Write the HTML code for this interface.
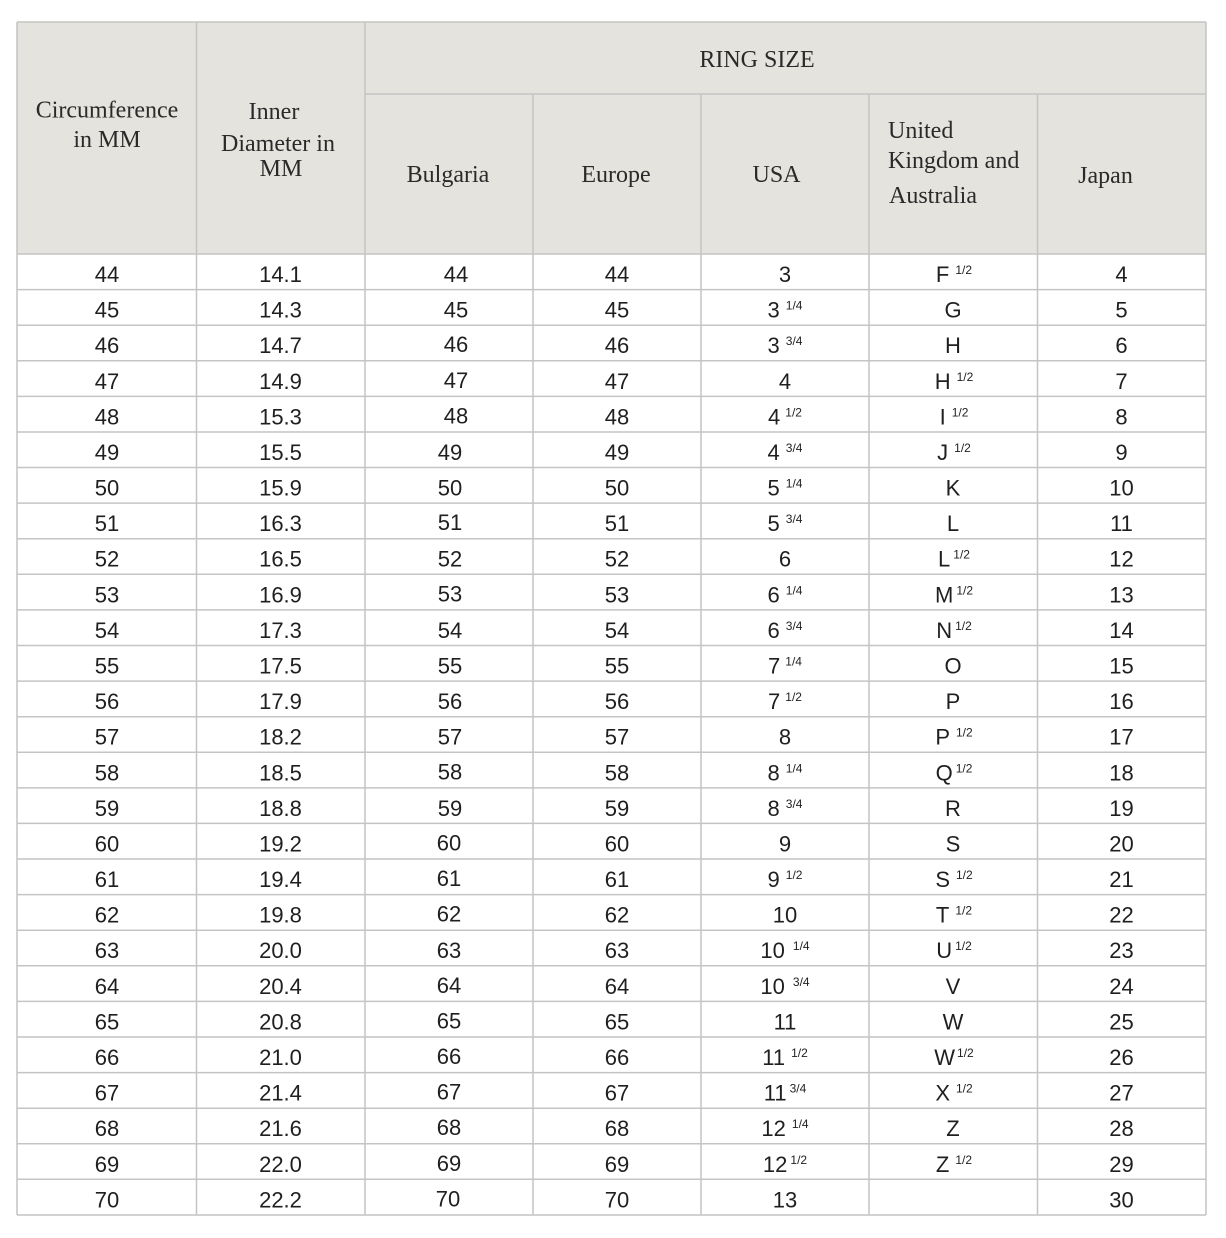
<!DOCTYPE html>
<html>
<head>
<meta charset="utf-8">
<style>
html,body{margin:0;padding:0;background:#fff;}
svg{display:block;}
.h{font-family:"Liberation Serif",serif;font-size:24px;fill:#2a2a2a;}
.b{font-family:"Liberation Sans",sans-serif;font-size:22px;fill:#1f1f1f;text-anchor:middle;}
.s{font-size:12px;}
</style>
</head>
<body>
<svg width="1226" height="1238" viewBox="0 0 1226 1238" xmlns="http://www.w3.org/2000/svg">
<rect x="0" y="0" width="1226" height="1238" fill="#fff"/>
<rect x="17" y="22" width="1189" height="232" fill="#e4e3dd"/>
<g stroke="#c4c4c4" stroke-width="1.5" fill="none">
<line x1="17" y1="22" x2="1206" y2="22"/>
<line x1="365" y1="94" x2="1206" y2="94"/>
<line x1="17" y1="22" x2="17" y2="1215"/>
<line x1="196.5" y1="22" x2="196.5" y2="1215"/>
<line x1="365" y1="22" x2="365" y2="1215"/>
<line x1="533" y1="94" x2="533" y2="1215"/>
<line x1="701" y1="94" x2="701" y2="1215"/>
<line x1="869" y1="94" x2="869" y2="1215"/>
<line x1="1037.5" y1="94" x2="1037.5" y2="1215"/>
<line x1="1206" y1="22" x2="1206" y2="1215"/>
<line x1="17" y1="254" x2="1206" y2="254"/>
<line x1="17" y1="289.6" x2="1206" y2="289.6"/>
<line x1="17" y1="325.2" x2="1206" y2="325.2"/>
<line x1="17" y1="360.8" x2="1206" y2="360.8"/>
<line x1="17" y1="396.4" x2="1206" y2="396.4"/>
<line x1="17" y1="432.0" x2="1206" y2="432.0"/>
<line x1="17" y1="467.5" x2="1206" y2="467.5"/>
<line x1="17" y1="503.1" x2="1206" y2="503.1"/>
<line x1="17" y1="538.7" x2="1206" y2="538.7"/>
<line x1="17" y1="574.3" x2="1206" y2="574.3"/>
<line x1="17" y1="609.9" x2="1206" y2="609.9"/>
<line x1="17" y1="645.5" x2="1206" y2="645.5"/>
<line x1="17" y1="681.1" x2="1206" y2="681.1"/>
<line x1="17" y1="716.7" x2="1206" y2="716.7"/>
<line x1="17" y1="752.3" x2="1206" y2="752.3"/>
<line x1="17" y1="787.9" x2="1206" y2="787.9"/>
<line x1="17" y1="823.4" x2="1206" y2="823.4"/>
<line x1="17" y1="859.0" x2="1206" y2="859.0"/>
<line x1="17" y1="894.6" x2="1206" y2="894.6"/>
<line x1="17" y1="930.2" x2="1206" y2="930.2"/>
<line x1="17" y1="965.8" x2="1206" y2="965.8"/>
<line x1="17" y1="1001.4" x2="1206" y2="1001.4"/>
<line x1="17" y1="1037.0" x2="1206" y2="1037.0"/>
<line x1="17" y1="1072.6" x2="1206" y2="1072.6"/>
<line x1="17" y1="1108.2" x2="1206" y2="1108.2"/>
<line x1="17" y1="1143.8" x2="1206" y2="1143.8"/>
<line x1="17" y1="1179.3" x2="1206" y2="1179.3"/>
<line x1="17" y1="1215" x2="1206" y2="1215"/>
</g>

<!-- headers -->
<g class="h">
<text x="107" y="117.5" text-anchor="middle">Circumference</text>
<text x="107" y="147" text-anchor="middle">in MM</text>
<text x="274" y="119" text-anchor="middle">Inner</text>
<text x="278" y="151" text-anchor="middle">Diameter in</text>
<text x="281" y="176" text-anchor="middle">MM</text>
<text x="757" y="67" text-anchor="middle">RING SIZE</text>
<text x="448" y="182" text-anchor="middle">Bulgaria</text>
<text x="616" y="182" text-anchor="middle">Europe</text>
<text x="776.5" y="182" text-anchor="middle">USA</text>
<text x="888" y="138">United</text>
<text x="888" y="168">Kingdom and</text>
<text x="889" y="203">Australia</text>
<text x="1105.5" y="183" text-anchor="middle">Japan</text>
</g>

<g class="b">
<!-- col1 -->
<text x="107" y="282.0">44</text>
<text x="107" y="317.6">45</text>
<text x="107" y="353.2">46</text>
<text x="107" y="388.8">47</text>
<text x="107" y="424.4">48</text>
<text x="107" y="459.9">49</text>
<text x="107" y="495.5">50</text>
<text x="107" y="531.1">51</text>
<text x="107" y="566.7">52</text>
<text x="107" y="602.3">53</text>
<text x="107" y="637.9">54</text>
<text x="107" y="673.5">55</text>
<text x="107" y="709.1">56</text>
<text x="107" y="744.7">57</text>
<text x="107" y="780.3">58</text>
<text x="107" y="815.9">59</text>
<text x="107" y="851.4">60</text>
<text x="107" y="887.0">61</text>
<text x="107" y="922.6">62</text>
<text x="107" y="958.2">63</text>
<text x="107" y="993.8">64</text>
<text x="107" y="1029.4">65</text>
<text x="107" y="1065.0">66</text>
<text x="107" y="1100.6">67</text>
<text x="107" y="1136.2">68</text>
<text x="107" y="1171.8">69</text>
<text x="107" y="1207.3">70</text>
<!-- col2 -->
<text x="280.5" y="282.0">14.1</text>
<text x="280.5" y="317.6">14.3</text>
<text x="280.5" y="353.2">14.7</text>
<text x="280.5" y="388.8">14.9</text>
<text x="280.5" y="424.4">15.3</text>
<text x="280.5" y="459.9">15.5</text>
<text x="280.5" y="495.5">15.9</text>
<text x="280.5" y="531.1">16.3</text>
<text x="280.5" y="566.7">16.5</text>
<text x="280.5" y="602.3">16.9</text>
<text x="280.5" y="637.9">17.3</text>
<text x="280.5" y="673.5">17.5</text>
<text x="280.5" y="709.1">17.9</text>
<text x="280.5" y="744.7">18.2</text>
<text x="280.5" y="780.3">18.5</text>
<text x="280.5" y="815.9">18.8</text>
<text x="280.5" y="851.4">19.2</text>
<text x="280.5" y="887.0">19.4</text>
<text x="280.5" y="922.6">19.8</text>
<text x="280.5" y="958.2">20.0</text>
<text x="280.5" y="993.8">20.4</text>
<text x="280.5" y="1029.4">20.8</text>
<text x="280.5" y="1065.0">21.0</text>
<text x="280.5" y="1100.6">21.4</text>
<text x="280.5" y="1136.2">21.6</text>
<text x="280.5" y="1171.8">22.0</text>
<text x="280.5" y="1207.3">22.2</text>
<!-- Bulgaria -->
<text x="456" y="282.0">44</text>
<text x="456" y="317.6">45</text>
<text x="456" y="352.2">46</text>
<text x="456" y="387.8">47</text>
<text x="456" y="423.4">48</text>
<text x="450" y="459.9">49</text>
<text x="450" y="495.5">50</text>
<text x="450" y="530.1">51</text>
<text x="450" y="566.7">52</text>
<text x="450" y="601.3">53</text>
<text x="450" y="637.9">54</text>
<text x="450" y="673.5">55</text>
<text x="450" y="709.1">56</text>
<text x="450" y="744.7">57</text>
<text x="450" y="779.3">58</text>
<text x="450" y="815.9">59</text>
<text x="449" y="850.4">60</text>
<text x="449" y="886.0">61</text>
<text x="449" y="921.6">62</text>
<text x="449" y="958.2">63</text>
<text x="449" y="992.8">64</text>
<text x="449" y="1028.4">65</text>
<text x="449" y="1064.0">66</text>
<text x="449" y="1099.6">67</text>
<text x="449" y="1135.2">68</text>
<text x="449" y="1170.8">69</text>
<text x="448" y="1206.3">70</text>
<!-- Europe -->
<text x="617" y="282.0">44</text>
<text x="617" y="317.6">45</text>
<text x="617" y="353.2">46</text>
<text x="617" y="388.8">47</text>
<text x="617" y="424.4">48</text>
<text x="617" y="459.9">49</text>
<text x="617" y="495.5">50</text>
<text x="617" y="531.1">51</text>
<text x="617" y="566.7">52</text>
<text x="617" y="602.3">53</text>
<text x="617" y="637.9">54</text>
<text x="617" y="673.5">55</text>
<text x="617" y="709.1">56</text>
<text x="617" y="744.7">57</text>
<text x="617" y="780.3">58</text>
<text x="617" y="815.9">59</text>
<text x="617" y="851.4">60</text>
<text x="617" y="887.0">61</text>
<text x="617" y="922.6">62</text>
<text x="617" y="958.2">63</text>
<text x="617" y="993.8">64</text>
<text x="617" y="1029.4">65</text>
<text x="617" y="1065.0">66</text>
<text x="617" y="1100.6">67</text>
<text x="617" y="1136.2">68</text>
<text x="617" y="1171.8">69</text>
<text x="617" y="1207.3">70</text>
<!-- USA -->
<text x="785" y="282.0">3</text>
<text x="785" y="317.6">3<tspan class="s" dx="6" dy="-8">1/4</tspan></text>
<text x="785" y="353.2">3<tspan class="s" dx="6" dy="-8">3/4</tspan></text>
<text x="785" y="388.8">4</text>
<text x="785" y="424.4">4<tspan class="s" dx="5" dy="-8">1/2</tspan></text>
<text x="785" y="459.9">4<tspan class="s" dx="6" dy="-8">3/4</tspan></text>
<text x="785" y="495.5">5<tspan class="s" dx="6" dy="-8">1/4</tspan></text>
<text x="785" y="531.1">5<tspan class="s" dx="6" dy="-8">3/4</tspan></text>
<text x="785" y="566.7">6</text>
<text x="785" y="602.3">6<tspan class="s" dx="6" dy="-8">1/4</tspan></text>
<text x="785" y="637.9">6<tspan class="s" dx="6" dy="-8">3/4</tspan></text>
<text x="785" y="673.5">7<tspan class="s" dx="5" dy="-8">1/4</tspan></text>
<text x="785" y="709.1">7<tspan class="s" dx="5" dy="-8">1/2</tspan></text>
<text x="785" y="744.7">8</text>
<text x="785" y="780.3">8<tspan class="s" dx="6" dy="-8">1/4</tspan></text>
<text x="785" y="815.9">8<tspan class="s" dx="6" dy="-8">3/4</tspan></text>
<text x="785" y="851.4">9</text>
<text x="785" y="887.0">9<tspan class="s" dx="6" dy="-8">1/2</tspan></text>
<text x="785" y="922.6">10</text>
<text x="785" y="958.2">10<tspan class="s" dx="8" dy="-8">1/4</tspan></text>
<text x="785" y="993.8">10<tspan class="s" dx="8" dy="-8">3/4</tspan></text>
<text x="785" y="1029.4">11</text>
<text x="785" y="1065.0">11<tspan class="s" dx="6" dy="-8">1/2</tspan></text>
<text x="785" y="1100.6">11<tspan class="s" dx="3" dy="-8">3/4</tspan></text>
<text x="785" y="1136.2">12<tspan class="s" dx="6" dy="-8">1/4</tspan></text>
<text x="785" y="1171.8">12<tspan class="s" dx="3" dy="-8">1/2</tspan></text>
<text x="785" y="1207.3">13</text>
<!-- UK -->
<text x="954" y="282.0">F<tspan class="s" dx="6" dy="-8">1/2</tspan></text>
<text x="953" y="317.6">G</text>
<text x="953" y="353.2">H</text>
<text x="954" y="388.8">H<tspan class="s" dx="6" dy="-8">1/2</tspan></text>
<text x="954" y="424.4">I<tspan class="s" dx="6" dy="-8">1/2</tspan></text>
<text x="954" y="459.9">J<tspan class="s" dx="6" dy="-8">1/2</tspan></text>
<text x="953" y="495.5">K</text>
<text x="953" y="531.1">L</text>
<text x="954" y="566.7">L<tspan class="s" dx="3" dy="-8">1/2</tspan></text>
<text x="954" y="602.3">M<tspan class="s" dx="3" dy="-8">1/2</tspan></text>
<text x="954" y="637.9">N<tspan class="s" dx="3" dy="-8">1/2</tspan></text>
<text x="953" y="673.5">O</text>
<text x="953" y="709.1">P</text>
<text x="954" y="744.7">P<tspan class="s" dx="6" dy="-8">1/2</tspan></text>
<text x="954" y="780.3">Q<tspan class="s" dx="3" dy="-8">1/2</tspan></text>
<text x="953" y="815.9">R</text>
<text x="953" y="851.4">S</text>
<text x="954" y="887.0">S<tspan class="s" dx="6" dy="-8">1/2</tspan></text>
<text x="954" y="922.6">T<tspan class="s" dx="6" dy="-8">1/2</tspan></text>
<text x="954" y="958.2">U<tspan class="s" dx="3" dy="-8">1/2</tspan></text>
<text x="953" y="993.8">V</text>
<text x="953" y="1029.4">W</text>
<text x="954" y="1065.0">W<tspan class="s" dx="2" dy="-8">1/2</tspan></text>
<text x="954" y="1100.6">X<tspan class="s" dx="6" dy="-8">1/2</tspan></text>
<text x="953" y="1136.2">Z</text>
<text x="954" y="1171.8">Z<tspan class="s" dx="6" dy="-8">1/2</tspan></text>
<!-- Japan -->
<text x="1121.5" y="282.0">4</text>
<text x="1121.5" y="317.6">5</text>
<text x="1121.5" y="353.2">6</text>
<text x="1121.5" y="388.8">7</text>
<text x="1121.5" y="424.4">8</text>
<text x="1121.5" y="459.9">9</text>
<text x="1121.5" y="495.5">10</text>
<text x="1121.5" y="531.1">11</text>
<text x="1121.5" y="566.7">12</text>
<text x="1121.5" y="602.3">13</text>
<text x="1121.5" y="637.9">14</text>
<text x="1121.5" y="673.5">15</text>
<text x="1121.5" y="709.1">16</text>
<text x="1121.5" y="744.7">17</text>
<text x="1121.5" y="780.3">18</text>
<text x="1121.5" y="815.9">19</text>
<text x="1121.5" y="851.4">20</text>
<text x="1121.5" y="887.0">21</text>
<text x="1121.5" y="922.6">22</text>
<text x="1121.5" y="958.2">23</text>
<text x="1121.5" y="993.8">24</text>
<text x="1121.5" y="1029.4">25</text>
<text x="1121.5" y="1065.0">26</text>
<text x="1121.5" y="1100.6">27</text>
<text x="1121.5" y="1136.2">28</text>
<text x="1121.5" y="1171.8">29</text>
<text x="1121.5" y="1207.3">30</text>
</g>
</svg>
</body>
</html>
